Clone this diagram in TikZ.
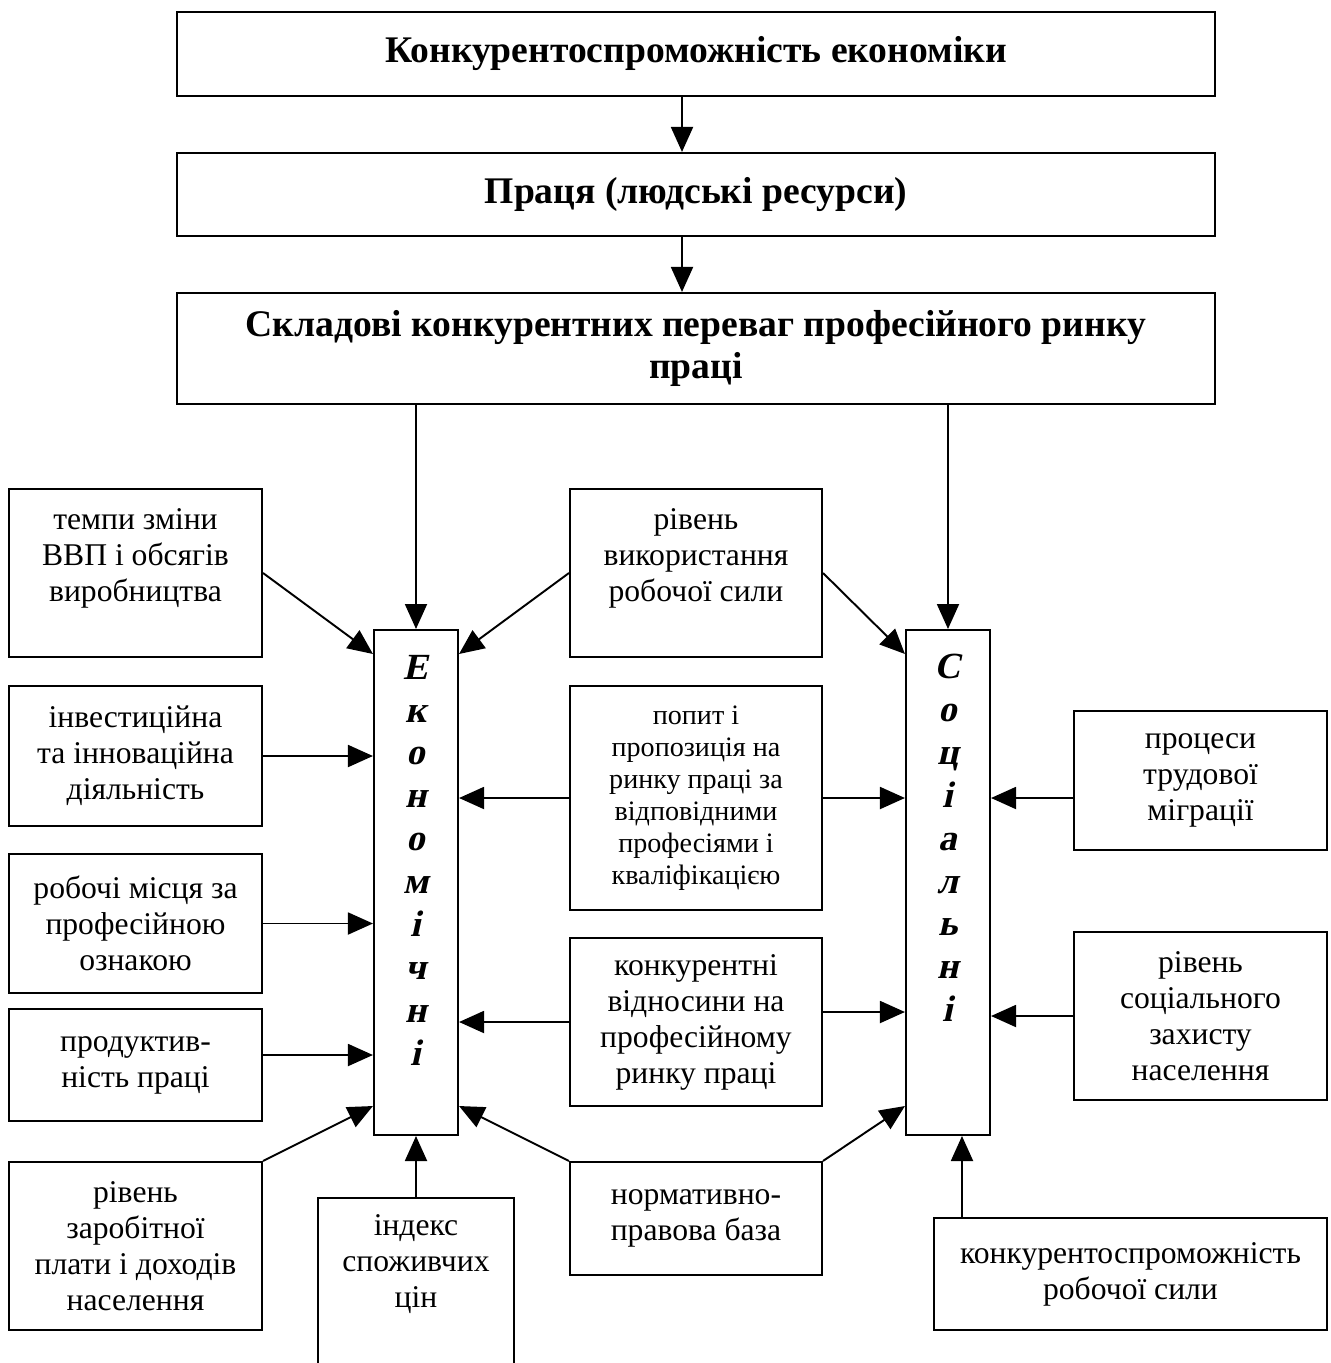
\documentclass[tikz,border=0pt]{standalone}
\usepackage{fontspec}
\setmainfont{Liberation Serif}
\newfontfamily\slantbold{Liberation Serif}[BoldFeatures={FakeSlant=0.22}]
\usetikzlibrary{arrows.meta,positioning,calc}

\begin{document}
\begin{tikzpicture}[
				x = 0.02cm, y = -0.02cm, % pixel grid, y going down
				> = {Triangle[length=5mm, width=4.4mm]}, % arrow head style
				line width = 1.1pt, % line style
				auto
			]
			
			\tikzstyle{every node}=[font=\fontsize{18}{20.5}\selectfont]
			\tikzstyle{header}=[draw, line width = 1.2pt, minimum width = 20.76cm, align = center,
			font = \fontsize{21.4}{24}\selectfont\bfseries]
			\tikzstyle{factor}=[draw, line width = 1.2pt, minimum width = 5.06cm, align = center, inner sep = 0pt]
			\tikzstyle{pillar}=[draw, line width = 1.2pt, minimum width = 1.68cm, minimum height = 10.1cm]
			\tikzstyle{letters}=[align = center, font = \slantbold\fontsize{21}{24.4}\selectfont\bfseries]
			
			\useasboundingbox (0,0) rectangle (1330,1363);
			
			\node[header, minimum height = 1.68cm] (top1) at (696,54) {Конкурентоспроможність економіки};
			\node[header, minimum height = 1.66cm] (top2) at (696,194.5) {Праця (людські ресурси)};
			\node[header, minimum height = 2.22cm] (top3) at (696,348.5) {Складові конкурентних переваг професійного ринку\\праці};
			
			\node[pillar] (econ) at (416,882.5) {};
			\node[letters] (econtxt) at (416,860) {Е\\к\\о\\н\\о\\м\\і\\ч\\н\\і};
			\node[pillar] (soc) at (948,882.5) {};
			\node[letters] (soctxt) at (948,838) {С\\о\\ц\\і\\а\\л\\ь\\н\\і};
			
			% left column
			\node[factor, minimum height = 3.36cm] (l1) at (135.5,573) {темпи зміни\\ВВП і обсягів\\виробництва\\~};
			\node[factor, minimum height = 2.8cm] (l2) at (135.5,756) {інвестиційна\\та інноваційна\\діяльність};
			\node[factor, minimum height = 2.78cm] (l3) at (135.5,923.5) {робочі місця за\\професійною\\ознакою};
			\node[factor, minimum height = 2.24cm] (l4) at (135.5,1065) {продуктив-\\ність праці};
			\node[factor, minimum height = 3.36cm] (l5) at (135.5,1246) {рівень\\заробітної\\плати і доходів\\населення};
			\node[factor, minimum width = 3.92cm, minimum height = 4cm, anchor = north] (index) at (416,1197) {};
			\node[align = center] (indextxt) at (416,1264) {індекс\\споживчих\\цін};
			
			% middle column
			\node[factor, minimum width = 5.04cm, minimum height = 3.36cm] (m1) at (696,573) {рівень\\використання\\робочої сили\\~};
			\node[factor, minimum width = 5.04cm, minimum height = 4.48cm,
			font = \fontsize{16}{18.2}\selectfont] (m2) at (696,798) {попит і\\пропозиція на\\ринку праці за\\відповідними\\професіями і\\кваліфікацією};
			\node[factor, minimum width = 5.04cm, minimum height = 3.36cm] (m3) at (696,1022) {конкурентні\\відносини на\\професійному\\ринку праці};
			\node[factor, minimum width = 5.04cm, minimum height = 2.26cm] (m4) at (696,1218.5) {нормативно-\\правова база};
			
			% right column
			\node[factor, minimum height = 2.78cm] (r1) at (1200.5,780.5) {процеси\\трудової\\міграції};
			\node[factor, minimum height = 3.36cm] (r2) at (1200.5,1016) {рівень\\соціального\\захисту\\населення};
			\node[factor, minimum width = 7.86cm, minimum height = 2.24cm] (r3) at (1130.5,1274) {конкурентоспроможність\\робочої сили};
			
			\path[->] ([xshift=-2.8mm]top1.south) edge ([xshift=-2.8mm]top2.north);
			\path[->] ([xshift=-2.8mm]top2.south) edge ([xshift=-2.8mm]top3.north);
			\path[->] (econ.north |- top3.south) edge (econ.north);
			\path[->] (soc.north |- top3.south) edge (soc.north);
			
			\path[->] (l1.east) edge ([yshift=-5mm]econ.north west);
			\path[->] (l2.east) edge (econ.west |- l2.east);
			\path[->] (l3.east) edge (econ.west |- l3.east);
			\path[->] ([yshift=2mm]l4.east) edge ([yshift=2mm]econ.west |- l4.east);
			\path[->] (l5.north east) edge ([yshift=6mm]econ.south west);
			\path[->] (index.north) edge (econ.south);
			
			\path[->] (m1.west) edge ([yshift=-5mm]econ.north east);
			\path[->] (m1.east) edge ([yshift=-5mm]soc.north west);
			\path[->] (m2.west) edge (econ.east |- m2.west);
			\path[->] (m2.east) edge (soc.west |- m2.east);
			\path[->] (m3.west) edge (econ.east |- m3.west);
			\path[->] ([yshift=2mm]m3.east) edge ([yshift=2mm]soc.west |- m3.east);
			\path[->] (m4.north west) edge ([yshift=6mm]econ.south east);
			\path[->] (m4.north east) edge ([yshift=6mm]soc.south west);
			
			\path[->] (r1.west |- m2.east) edge (soc.east |- m2.east);
			\path[->] (r2.west) edge (soc.east |- r2.west);
			\path[->] ([xshift=2.8mm]soc.south |- r3.north) edge ([xshift=2.8mm]soc.south);
		\end{tikzpicture}
\end{document}
